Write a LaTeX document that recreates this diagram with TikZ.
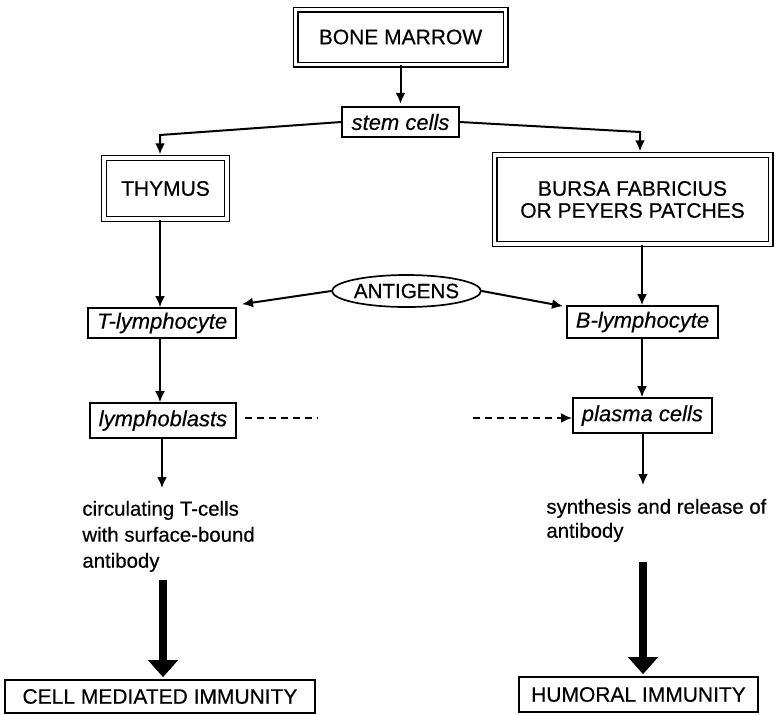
\documentclass[tikz,border=0pt]{standalone}
\usepackage{fontspec}
\setmainfont{Liberation Sans}[FakeBold=0.4]
\usetikzlibrary{arrows.meta,calc,shapes.geometric}
\begin{document}
\begin{tikzpicture}[x=0.5pt,y=-0.5pt,
  every node/.style={font=\fontsize{10.5}{11}\selectfont},
  dbox/.style={draw,double,line width=0.7pt,double distance=1.6pt,inner sep=0pt,align=center},
  sbox/.style={draw,line width=0.85pt,inner sep=0pt},
  ibox/.style={draw,line width=0.85pt,inner xsep=4.5pt,inner ysep=0pt,font=\fontsize{11}{12}\itshape},
  arr/.style={line width=1pt,-{Latex[length=5.5pt,width=5pt]}},
  dsh/.style={line width=1pt,dash pattern=on 3.5pt off 2.5pt},
  bigarr/.style={line width=4pt,-{Triangle[length=8.5pt,width=14.5pt]}},
  txt/.style={anchor=north west,inner sep=0pt,align=left}
]
\useasboundingbox (0,0) rectangle (775,714);

\node[dbox,minimum width=105pt,minimum height=27.5pt] (bm) at (400.5,37) {BONE MARROW};
\node[sbox,font=\fontsize{11}{12}\itshape,minimum width=58.5pt,minimum height=15pt] (stem) at (400.5,122) {stem cells};
\node[dbox,minimum width=61.5pt,minimum height=30.5pt] (thy) at (165.5,188.5) {THYMUS};
\node[dbox,minimum width=138pt,minimum height=44.5pt] (bur) at (632.5,199.5) {BURSA FABRICIUS\\OR PEYERS PATCHES};
\node[ellipse,draw,line width=0.85pt,inner sep=0pt,minimum width=66.5pt,minimum height=16pt,font=\fontsize{10.3}{11}\selectfont] (ag) at (406.5,291) {ANTIGENS};
\node[ibox,minimum height=15pt,anchor=east] (tl) at (237,323) {T-lymphocyte};
\node[ibox,minimum height=16pt,anchor=west] (bl) at (566,322) {B-lymphocyte};
\node[ibox,minimum height=17.5pt,anchor=east] (lb) at (237,420.5) {lymphoblasts};
\node[ibox,minimum height=17.5pt,anchor=west] (pc) at (572,415.5) {plasma cells};
\node[txt,font=\fontsize{10.2}{13}\selectfont] (circ) at (82,500.5) {circulating T-cells\\with surface-bound\\antibody};
\node[txt,font=\fontsize{10.2}{12}\selectfont] (syn) at (546,498.5) {synthesis and release of\\antibody};
\node[sbox,minimum width=155pt,minimum height=16.5pt] (cmi) at (160,696.5) {CELL MEDIATED IMMUNITY};
\node[sbox,minimum width=119.5pt,minimum height=17.5pt] (hi) at (638.5,694.5) {HUMORAL IMMUNITY};

\coordinate (lx) at (160,0);
\coordinate (rx) at (642,0);
\coordinate (tc) at (160,135);
\coordinate (bc) at (640,132);
\coordinate (a1) at (162,488);
\coordinate (a2) at (643,485);
\coordinate (d1) at (318,418);
\coordinate (d2) at (473,418);
\coordinate (t1) at (163,580);
\coordinate (t2) at (643,562);

\draw[arr,shorten >=1.2pt] (bm.south) -- (stem.north);
\draw[arr,shorten >=1.5pt] (stem.west) -- (tc) -- (tc |- thy.north);
\draw[arr,shorten >=1.5pt] (stem.east) -- (bc) -- (bc |- bur.north);
\draw[arr] (thy.south -| lx) -- (tl.north -| lx);
\draw[arr] (bur.south -| rx) -- (bl.north -| rx);
\draw[arr] (ag.west) -- ($(tl.north east)+(5,-3)$);
\draw[arr] (ag.east) -- ($(bl.north west)+(-3,1)$);
\draw[arr] (tl.south -| lx) -- (lb.north -| lx);
\draw[arr] (bl.south -| rx) -- (pc.north -| rx);
\draw[arr] (lb.south -| a1) -- (a1);
\draw[arr] (pc.south -| a2) -- (a2);
\draw[dsh,shorten <=4pt] (lb.east |- d1) -- (d1);
\draw[dsh,-{Latex[length=5.5pt,width=5pt]}] (d2) -- (pc.west |- d2);
\draw[bigarr,shorten >=1pt] (t1) -- (t1 |- cmi.north);
\draw[bigarr,shorten >=1pt] (t2) -- (t2 |- hi.north);
\end{tikzpicture}
\end{document}
